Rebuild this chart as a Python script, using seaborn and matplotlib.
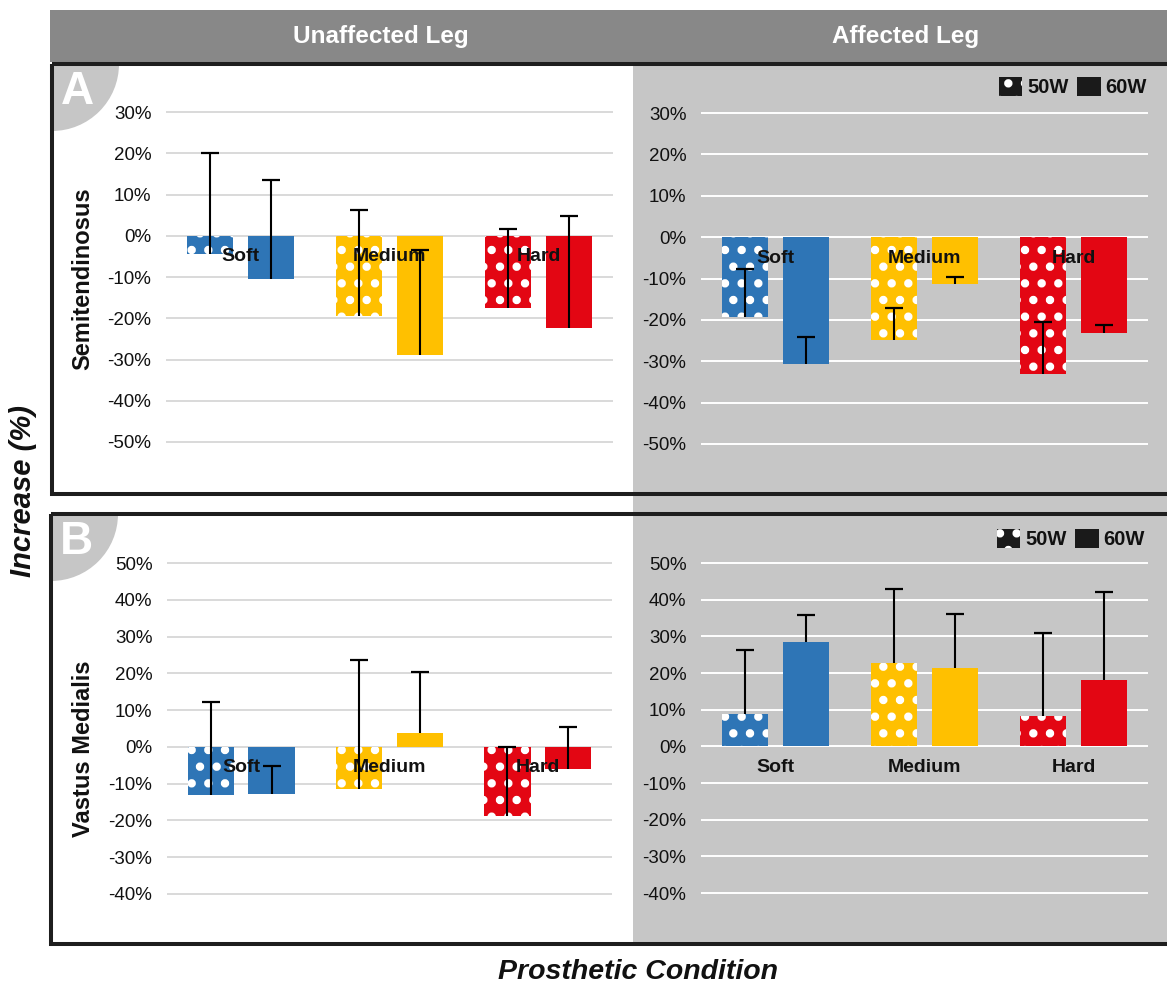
import matplotlib
matplotlib.use("Agg")
import matplotlib.pyplot as plt
from matplotlib.patches import Rectangle, Wedge, Patch
import pandas as pd
import seaborn as sns

# ---------------- data ----------------
conditions = ["Soft", "Medium", "Hard"]
powers = ["50W", "60W"]
condition_colors = ["#2E75B6", "#FFC000", "#E30613"]

# Panel A - Semitendinosus (value, upper error)
st_unaffected_50w = [-4.5, -19.5, -17.5]
st_unaffected_60w = [-10.6, -28.9, -22.3]
st_unaffected_50w_err = [24.5, 25.8, 19.2]
st_unaffected_60w_err = [24.2, 25.4, 27.2]
st_affected_50w = [-19.3, -24.9, -33.2]
st_affected_60w = [-30.7, -11.4, -23.1]
st_affected_50w_err = [11.7, 7.8, 12.7]
st_affected_60w_err = [6.6, 1.8, 1.9]

# Panel B - Vastus Medialis
vm_unaffected_50w = [-13.1, -11.5, -18.7]
vm_unaffected_60w = [-12.8, 3.9, -5.9]
vm_unaffected_50w_err = [25.4, 35.1, 18.7]
vm_unaffected_60w_err = [7.6, 16.5, 11.3]
vm_affected_50w = [8.8, 22.6, 8.2]
vm_affected_60w = [28.5, 21.3, 18.1]
vm_affected_50w_err = [17.5, 20.3, 22.6]
vm_affected_60w_err = [7.2, 14.7, 23.9]

st_ticks = [-50, -40, -30, -20, -10, 0, 10, 20, 30]
st_tick_labels = ["-50%", "-40%", "-30%", "-20%", "-10%", "0%", "10%", "20%", "30%"]
vm_ticks = [-40, -30, -20, -10, 0, 10, 20, 30, 40, 50]
vm_tick_labels = ["-40%", "-30%", "-20%", "-10%", "0%", "10%", "20%", "30%", "40%", "50%"]

column_titles = ["Unaffected Leg", "Affected Leg"]
muscle_labels = ["Semitendinosus", "Vastus Medialis"]
panel_letters = ["A", "B"]

# ---------------- style ----------------
sns.set_style("white")
plt.rcParams["font.family"] = ["Liberation Sans", "DejaVu Sans"]
plt.rcParams["axes.unicode_minus"] = False
plt.rcParams["hatch.linewidth"] = 3.6
plt.rcParams["hatch.color"] = "white"

W, H = 1167, 986
fig = plt.figure(figsize=(W / 100, H / 100), dpi=100)

# background / decoration layer in pixel coordinates
bg = fig.add_axes([0, 0, 1, 1], zorder=0)
bg.set_xlim(0, W)
bg.set_ylim(H, 0)
bg.axis("off")

GRAY_PANEL = "#c6c6c6"
bg.add_patch(Rectangle((633, 64), 560, 880, facecolor=GRAY_PANEL, edgecolor="none", zorder=1))
bg.add_patch(Rectangle((50, 10), 1130, 52, facecolor="#888888", edgecolor="none", zorder=1))
bg.text(381, 37, column_titles[0], color="white", fontsize=17.5, fontweight="bold",
        ha="center", va="center", zorder=5)
bg.text(906, 37, column_titles[1], color="white", fontsize=17.5, fontweight="bold",
        ha="center", va="center", zorder=5)

frames = [(52, 64, 494), (51, 514, 944)]
for (fx, ftop, fbot), letter in zip(frames, panel_letters):
    bg.add_patch(Wedge((fx, ftop), 67, 0, 90, facecolor=GRAY_PANEL, edgecolor="none", zorder=2))
    bg.add_patch(Rectangle((fx, ftop), 1160, fbot - ftop, fill=False, edgecolor="#1e1e1e",
                           linewidth=2.9, zorder=4))
    bg.text(fx + 25, ftop + 28, letter, color="white", fontsize=33, fontweight="bold",
            ha="center", va="center", zorder=5)

bg.text(83, 279, muscle_labels[0], rotation=90, fontsize=17, fontweight="bold",
        ha="center", va="center", color="#111111")
bg.text(83, 749, muscle_labels[1], rotation=90, fontsize=17, fontweight="bold",
        ha="center", va="center", color="#111111")
bg.text(23, 491, "Increase (%)", rotation=90, fontsize=21, fontweight="bold",
        fontstyle="italic", ha="center", va="center", color="#111111")
bg.text(638, 972, "Prosthetic Condition", fontsize=20.5, fontweight="bold",
        fontstyle="italic", ha="center", va="center", color="#111111")


def make_axes(x0, x1, y_top, y_bot, vmin, vmax, pad=14):
    per_px = (vmax - vmin) / (y_bot - y_top)
    top, bot = y_top - pad, y_bot + pad
    ax = fig.add_axes([x0 / W, 1 - bot / H, (x1 - x0) / W, (bot - top) / H], zorder=1)
    ax.set_ylim(vmin - pad * per_px, vmax + pad * per_px)
    return ax


def draw_panel(ax, v50, v60, e50, e60, ticks, tick_labels, grid_color, legend_xy=None):
    df = pd.DataFrame({
        "Condition": conditions + conditions,
        "Power": [powers[0]] * len(conditions) + [powers[1]] * len(conditions),
        "Increase": list(v50) + list(v60),
    })
    sns.barplot(data=df, x="Condition", y="Increase", hue="Power", order=conditions,
                hue_order=powers, width=0.82, gap=0.24, saturation=1, errorbar=None,
                legend=False, ax=ax, zorder=2)
    values = {powers[0]: v50, powers[1]: v60}
    errors = {powers[0]: e50, powers[1]: e60}
    for power, container in zip(powers, ax.containers):
        for bar in container:
            xc = bar.get_x() + bar.get_width() / 2
            j = int(round(xc))
            bar.set_facecolor(condition_colors[j])
            bar.set_edgecolor("white")
            bar.set_linewidth(0)
            if power == powers[0]:
                bar.set_hatch(".")
            v = values[power][j]
            top = v + errors[power][j]
            ax.vlines(xc, v, top, color="black", linewidth=1.5, zorder=6)
            ax.plot([xc], [top], marker="_", markersize=13, markeredgewidth=1.6,
                    color="black", zorder=6)
    for j, cond in enumerate(conditions):
        ax.annotate(cond, xy=(j, 0), xytext=(0, -21), textcoords="offset pixels",
                    ha="center", va="center", fontsize=14, fontweight="bold",
                    color="#111111", zorder=5)
    ax.set_xlim(-0.5, len(conditions) - 0.5)
    ax.set_yticks(ticks)
    ax.set_yticklabels(tick_labels)
    ax.tick_params(axis="y", length=0, pad=10.5, labelsize=13.5, labelcolor="#111111")
    ax.tick_params(axis="x", length=0, labelbottom=False)
    ax.set_xlabel("")
    ax.set_ylabel("")
    ax.grid(axis="y", color=grid_color, linewidth=1.4)
    ax.grid(axis="x", visible=False)
    ax.set_axisbelow(True)
    ax.set_facecolor("none")
    for s in ax.spines.values():
        s.set_visible(False)
    if legend_xy is not None:
        handles = [Patch(facecolor="#1a1a1a", edgecolor="white", linewidth=0, hatch="."),
                   Patch(facecolor="#1a1a1a", edgecolor="none", linewidth=0)]
        leg = ax.legend(handles, powers, loc="center right", ncol=2,
                        bbox_to_anchor=(legend_xy[0] / W, 1 - legend_xy[1] / H),
                        bbox_transform=fig.transFigure, frameon=False,
                        prop={"weight": "bold", "size": 14.5}, handlelength=1.15,
                        handleheight=1.1, handletextpad=0.25, columnspacing=0.45,
                        borderpad=0, borderaxespad=0)
        for t in leg.get_texts():
            t.set_color("#111111")


axA1 = make_axes(166, 613, 112, 442, -50, 30)
axA2 = make_axes(701, 1148, 113, 444, -50, 30)
axB1 = make_axes(167, 612, 563, 894, -40, 50)
axB2 = make_axes(701, 1148, 563, 893, -40, 50)

draw_panel(axA1, st_unaffected_50w, st_unaffected_60w, st_unaffected_50w_err,
           st_unaffected_60w_err, st_ticks, st_tick_labels, "#d9d9d9")
draw_panel(axA2, st_affected_50w, st_affected_60w, st_affected_50w_err,
           st_affected_60w_err, st_ticks, st_tick_labels, "white", legend_xy=(1147, 87))
draw_panel(axB1, vm_unaffected_50w, vm_unaffected_60w, vm_unaffected_50w_err,
           vm_unaffected_60w_err, vm_ticks, vm_tick_labels, "#d9d9d9")
draw_panel(axB2, vm_affected_50w, vm_affected_60w, vm_affected_50w_err,
           vm_affected_60w_err, vm_ticks, vm_tick_labels, "white", legend_xy=(1145, 539))

fig.savefig("out.png", dpi=100)
